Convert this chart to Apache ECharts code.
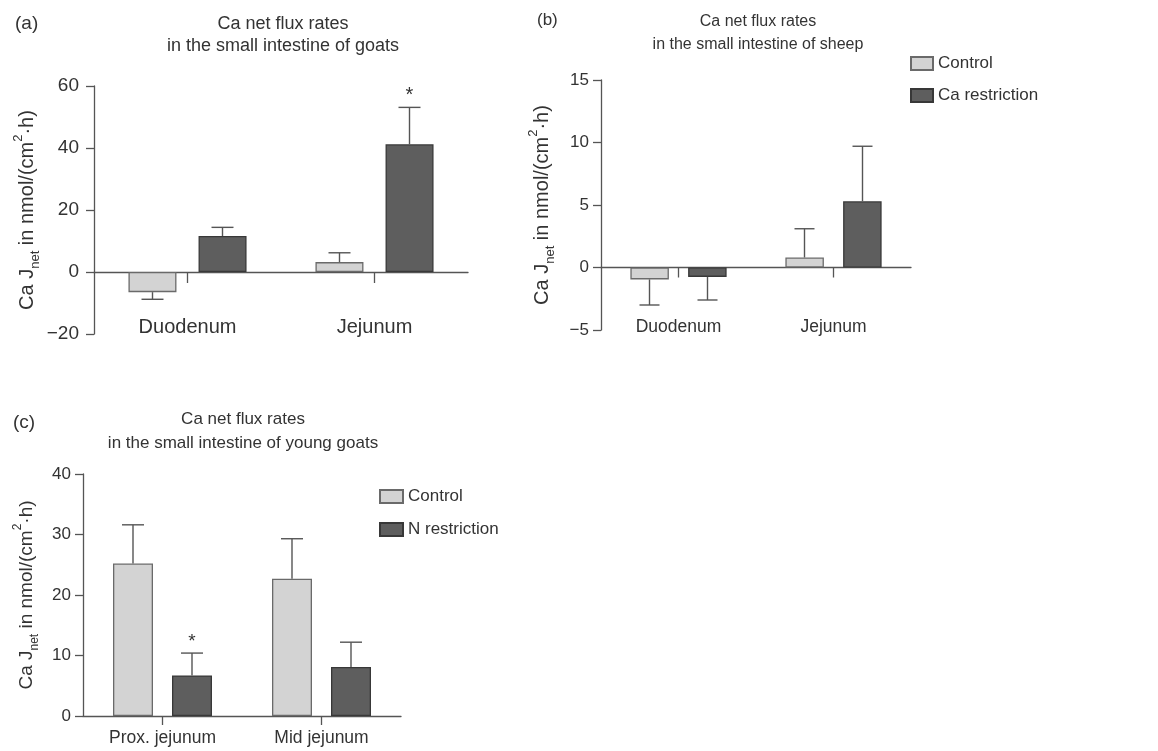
<!DOCTYPE html>
<html>
<head>
<meta charset="utf-8">
<script src="https://cdn.jsdelivr.net/npm/echarts@6/dist/echarts.min.js"></script>
<style>
html,body{margin:0;padding:0;background:#fff;}
#chart{width:1158px;height:751px;}
</style>
</head>
<body>
<div id="chart"></div>
<script>
// ---- Data ----
var catsAB = ['Duodenum', 'Jejunum'];
var catsC = ['Prox. jejunum', 'Mid jejunum'];

var aControl = [-6.5, 3.2];
var aControlErr = [2.3, 3.0];
var aCaR = [11.6, 41.2];
var aCaRErr = [2.8, 11.9];
var aCaRSig = [0, 1];

var bControl = [-0.95, 0.8];
var bControlErr = [2.05, 2.3];
var bCaR = [-0.75, 5.3];
var bCaRErr = [1.85, 4.4];

var cControl = [25.2, 22.7];
var cControlErr = [6.4, 6.6];
var cNR = [6.7, 8.1];
var cNRErr = [3.7, 4.1];
var cNRSig = [1, 0];

var seriesNames = ['Control', 'Ca restriction', 'N restriction'];
var titleA = 'Ca net flux rates\nin the small intestine of goats';
var titleB = 'Ca net flux rates\nin the small intestine of sheep';
var titleC = 'Ca net flux rates\nin the small intestine of young goats';
var yName = '{n|Ca J}{s|net}{n| in nmol/(cm}{p|2}{n|·h)}';

// ---- Styles ----
var FONT = "'Liberation Sans', Arial, sans-serif";
var AX = '#555';
var TXT = '#333';
var LIGHT = '#d3d3d3', LIGHT_B = '#6a6a6a';
var DARK = '#5e5e5e', DARK_B = '#383838';

function minusFmt(v) { return String(v).replace('-', '\u2212'); }
function errData(vals, errs, sig) {
  return vals.map(function (v, i) { return [i, v, errs[i], sig ? sig[i] : 0]; });
}
function errRender(offset, cap, starSize) {
  return function (params, api) {
    var i = api.value(0), v = api.value(1), e = api.value(2), s = api.value(3);
    var dir = v >= 0 ? 1 : -1;
    var p0 = api.coord([i, v]);
    var p1 = api.coord([i, v + dir * e]);
    var cx = p0[0] + offset;
    var st = { stroke: AX, lineWidth: 1.4 };
    var ch = [
      { type: 'line', shape: { x1: cx, y1: p0[1], x2: cx, y2: p1[1] }, style: st },
      { type: 'line', shape: { x1: cx - cap / 2, y1: p1[1], x2: cx + cap / 2, y2: p1[1] }, style: st }
    ];
    if (s) {
      ch.push({ type: 'text', x: cx, y: p1[1] - 2, style: { text: '*', fill: TXT, font: starSize + 'px ' + FONT, align: 'center', verticalAlign: 'bottom' } });
    }
    return { type: 'group', children: ch };
  };
}
function yRich(fs, subFs, lh) {
  return {
    n: { fontSize: fs, fontFamily: FONT, color: TXT, lineHeight: lh, verticalAlign: 'middle' },
    s: { fontSize: subFs, fontFamily: FONT, color: TXT, lineHeight: subFs, verticalAlign: 'bottom' },
    p: { fontSize: subFs, fontFamily: FONT, color: TXT, lineHeight: subFs, verticalAlign: 'top' }
  };
}
// axis drawn at zero: line + ticks
function xLineAxis(gi, cats, tickLen, showLabel, fs, margin) {
  return {
    type: 'category', gridIndex: gi, data: cats,
    axisLine: { show: true, onZero: true, lineStyle: { color: AX, width: 1.3 } },
    axisTick: { show: true, alignWithLabel: true, length: tickLen, lineStyle: { color: AX, width: 1.3 } },
    axisLabel: { show: showLabel, fontSize: fs, fontFamily: FONT, color: TXT, margin: margin },
    splitLine: { show: false }
  };
}
// axis carrying only category labels (at the bottom of the plot)
function xLabelAxis(gi, cats, fs, margin) {
  return {
    type: 'category', gridIndex: gi, data: cats, position: 'bottom',
    axisLine: { show: false, onZero: false },
    axisTick: { show: false },
    axisLabel: { show: true, fontSize: fs, fontFamily: FONT, color: TXT, margin: margin },
    splitLine: { show: false }
  };
}
function yAxisDef(gi, min, max, interval, fs, margin, nameGap, nfs) {
  return {
    type: 'value', gridIndex: gi, min: min, max: max, interval: interval,
    axisLine: { show: true, lineStyle: { color: AX, width: 1.3 } },
    axisTick: { show: true, length: 8, lineStyle: { color: AX, width: 1.3 } },
    axisLabel: { fontSize: fs, fontFamily: FONT, color: TXT, margin: margin, formatter: minusFmt },
    splitLine: { show: false },
    name: yName, nameLocation: 'middle', nameRotate: 90, nameGap: nameGap,
    nameTextStyle: { rich: yRich(nfs, Math.round(nfs * 0.65), nfs + 10) }
  };
}
function bar(name, gi, vals, color, border, width, gap) {
  return {
    name: name, type: 'bar', xAxisIndex: gi, yAxisIndex: gi, data: vals,
    barWidth: width, barGap: gap,
    itemStyle: { color: color, borderColor: border, borderWidth: 1.3 },
    emphasis: { disabled: true }
  };
}
function errSeries(gi, vals, errs, sig, offset, cap, starSize) {
  return {
    type: 'custom', xAxisIndex: gi, yAxisIndex: gi, z: 5,
    data: errData(vals, errs, sig), renderItem: errRender(offset, cap, starSize),
    encode: { x: 0, y: 1 }, silent: true
  };
}
function titleStyle(fs, lh) {
  return { fontSize: fs, lineHeight: lh, fontWeight: 'normal', color: TXT, fontFamily: FONT };
}

var chart = echarts.init(document.getElementById('chart'), null, { renderer: 'canvas' });
var option = {
  animation: false,
  backgroundColor: '#fff',
  textStyle: { fontFamily: FONT },
  title: [
    { text: '(a)', left: 10, top: 8, textStyle: titleStyle(19, 22) },
    { text: '(b)', left: 532, top: 5, textStyle: titleStyle(17, 20) },
    { text: '(c)', left: 8, top: 407, textStyle: titleStyle(19, 22) },
    { text: titleA, left: 278, top: 8, textAlign: 'center', textStyle: titleStyle(18, 22) },
    { text: titleB, left: 753, top: 5, textAlign: 'center', textStyle: titleStyle(16, 23) },
    { text: titleC, left: 238, top: 402, textAlign: 'center', textStyle: titleStyle(17, 24) }
  ],
  legend: [
    { left: 910, top: 55, orient: 'vertical', padding: 0, itemWidth: 22, itemHeight: 13, itemGap: 15, icon: 'rect',
      data: ['Control', 'Ca restriction'], selectedMode: false,
      textStyle: { fontSize: 17, fontFamily: FONT, color: TXT } },
    { left: 379, top: 488, orient: 'vertical', padding: 0, itemWidth: 23, itemHeight: 13, itemGap: 16, icon: 'rect',
      data: ['Control', 'N restriction'], selectedMode: false,
      textStyle: { fontSize: 17, fontFamily: FONT, color: TXT } }
  ],
  grid: [
    { left: 94, right: 690, top: 86, bottom: 417, containLabel: false },
    { left: 601, right: 247, top: 80, bottom: 421, containLabel: false },
    { left: 83, right: 757, top: 474, bottom: 35, containLabel: false }
  ],
  xAxis: [
    xLineAxis(0, catsAB, 11, false, 20, 0),
    xLineAxis(1, catsAB, 10, false, 17.5, 0),
    xLineAxis(2, catsC, 9, true, 17.5, 13),
    xLabelAxis(0, catsAB, 20, -17),
    xLabelAxis(1, catsAB, 17.5, -12)
  ],
  yAxis: [
    yAxisDef(0, -20, 60, 20, 19, 15, 52, 20),
    yAxisDef(1, -5, 15, 5, 17, 12, 44, 20),
    yAxisDef(2, 0, 40, 10, 17, 12, 42, 19)
  ],
  series: [
    bar(seriesNames[0], 0, aControl, LIGHT, LIGHT_B, 48, '46%'),
    bar(seriesNames[1], 0, aCaR, DARK, DARK_B, 48, '46%'),
    errSeries(0, aControl, aControlErr, null, -35, 22, 20),
    errSeries(0, aCaR, aCaRErr, aCaRSig, 35, 22, 20),

    bar(seriesNames[0], 1, bControl, LIGHT, LIGHT_B, 38.5, '50%'),
    bar(seriesNames[1], 1, bCaR, DARK, DARK_B, 38.5, '50%'),
    errSeries(1, bControl, bControlErr, null, -29, 20, 20),
    errSeries(1, bCaR, bCaRErr, null, 29, 20, 20),

    bar(seriesNames[0], 2, cControl, LIGHT, LIGHT_B, 40, '47.5%'),
    bar(seriesNames[2], 2, cNR, DARK, DARK_B, 40, '47.5%'),
    errSeries(2, cControl, cControlErr, null, -29.5, 22, 19),
    errSeries(2, cNR, cNRErr, cNRSig, 29.5, 22, 19)
  ]
};
chart.setOption(option);
</script>
</body>
</html>
